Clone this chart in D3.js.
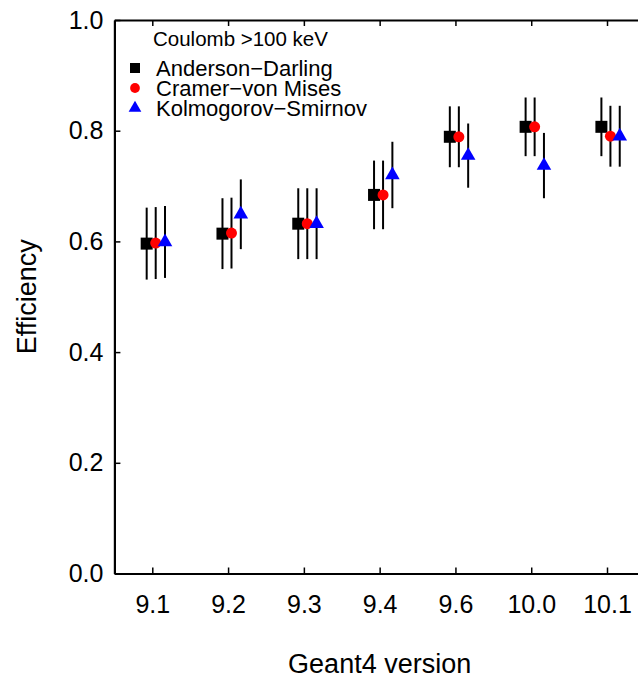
<!DOCTYPE html>
<style>
    body { margin: 0; background: white; }
    text { font-family: Arial, "Liberation Sans", sans-serif; fill: black; }
</style>
<body>
<svg></svg>
<script src="https://d3js.org/d3.v7.min.js"></script>
<script>
    // values
    let versions = ["9.1", "9.2", "9.3", "9.4", "9.6", "10.0", "10.1"];
    let adVals = [0.596, 0.614, 0.632, 0.684, 0.789, 0.807, 0.807];
    let adErr  = [0.065, 0.064, 0.064, 0.062, 0.055, 0.053, 0.053];
    let cvmVals = [0.597, 0.615, 0.632, 0.684, 0.789, 0.807, 0.790];
    let cvmErr  = [0.065, 0.064, 0.064, 0.062, 0.055, 0.053, 0.055];
    let ksVals = [0.599, 0.649, 0.632, 0.720, 0.755, 0.737, 0.790];
    let ksErr  = [0.065, 0.063, 0.064, 0.060, 0.058, 0.059, 0.055];
    let yTicks = [0, 0.2, 0.4, 0.6, 0.8, 1.0];

    let width = 638,
        height = 678;

    let svg = d3.select("svg")
        .attr("width", width)
        .attr("height", height);

    let x = d3.scaleLinear().domain([0.5, 7.5]).range([114.4, 644.9]),
        y = d3.scaleLinear().domain([0, 1]).range([573.5, 20]);

    let series = [
        {name: "Anderson\u2212Darling", vals: adVals, err: adErr, shift: -0.074, color: "black", symbol: d3.symbolSquare, size: 144, legSize: 100},
        {name: "Cramer\u2212von Mises", vals: cvmVals, err: cvmErr, shift: 0.045, color: "red", symbol: d3.symbolCircle, size: 95, legSize: 75},
        {name: "Kolmogorov\u2212Smirnov", vals: ksVals, err: ksErr, shift: 0.168, color: "blue", symbol: d3.symbolTriangle, size: 92, legSize: 70}
    ];

    // axes, ticks inside
    let xTickVals = d3.range(1, versions.length + 1);

    svg.append("g")
        .attr("transform", "translate(0," + y(0) + ")")
        .call(d3.axisBottom(x).tickValues(xTickVals).tickFormat(function (d) { return versions[d - 1]; })
            .tickSizeInner(-6).tickSizeOuter(0).tickPadding(22))
        .call(function (g) {
            g.select(".domain").attr("stroke-width", 2.2);
            g.selectAll(".tick line").attr("stroke-width", 1.5);
            g.selectAll("text").style("font-size", "25px").attr("fill", "black");
        });

    svg.append("g")
        .attr("transform", "translate(0," + y(1) + ")")
        .call(d3.axisTop(x).tickValues(xTickVals).tickFormat("")
            .tickSizeInner(-6).tickSizeOuter(0))
        .call(function (g) {
            g.select(".domain").attr("stroke-width", 2.2);
            g.selectAll(".tick line").attr("stroke-width", 1.5);
        });

    svg.append("g")
        .attr("transform", "translate(" + x(0.5) + ",0)")
        .call(d3.axisLeft(y).tickValues(yTicks).tickFormat(d3.format(".1f"))
            .tickSizeInner(-6).tickSizeOuter(0).tickPadding(11))
        .call(function (g) {
            g.select(".domain").attr("stroke-width", 2.2);
            g.selectAll(".tick line").attr("stroke-width", 1.5);
            g.selectAll("text").style("font-size", "25px").attr("fill", "black");
        });

    // error bars first, markers on top
    series.forEach(function (s) {
        svg.append("g").selectAll("line")
            .data(s.vals)
            .enter().append("line")
            .attr("x1", function (d, i) { return x(i + 1 + s.shift); })
            .attr("x2", function (d, i) { return x(i + 1 + s.shift); })
            .attr("y1", function (d, i) { return y(d + s.err[i]); })
            .attr("y2", function (d, i) { return y(d - s.err[i]); })
            .attr("stroke", "black")
            .attr("stroke-width", 2);
    });

    series.forEach(function (s) {
        svg.append("g").selectAll("path")
            .data(s.vals)
            .enter().append("path")
            .attr("d", d3.symbol().type(s.symbol).size(s.size))
            .attr("transform", function (d, i) {
                return "translate(" + x(i + 1 + s.shift) + "," + y(d) + ")";
            })
            .attr("fill", s.color);
    });

    // legend
    let leg = svg.append("g");
    leg.append("text")
        .attr("x", 153).attr("y", 46)
        .style("font-size", "20.5px")
        .text("Coulomb >100 keV");

    series.forEach(function (s, i) {
        let ly = 68 + i * 20;
        leg.append("path")
            .attr("d", d3.symbol().type(s.symbol).size(s.legSize))
            .attr("transform", "translate(135," + ly + ")")
            .attr("fill", s.color);
        leg.append("text")
            .attr("x", 156).attr("y", ly + 7.5)
            .style("font-size", "22px")
            .text(s.name);
    });

    // axis titles
    svg.append("text")
        .attr("x", (x(0.5) + x(7.5)) / 2)
        .attr("y", 673)
        .attr("text-anchor", "middle")
        .style("font-size", "27px")
        .text("Geant4 version");

    svg.append("text")
        .attr("transform", "translate(36," + (y(0) + y(1)) / 2 + ") rotate(-90)")
        .attr("text-anchor", "middle")
        .style("font-size", "27px")
        .text("Efficiency");
</script>
</body>
